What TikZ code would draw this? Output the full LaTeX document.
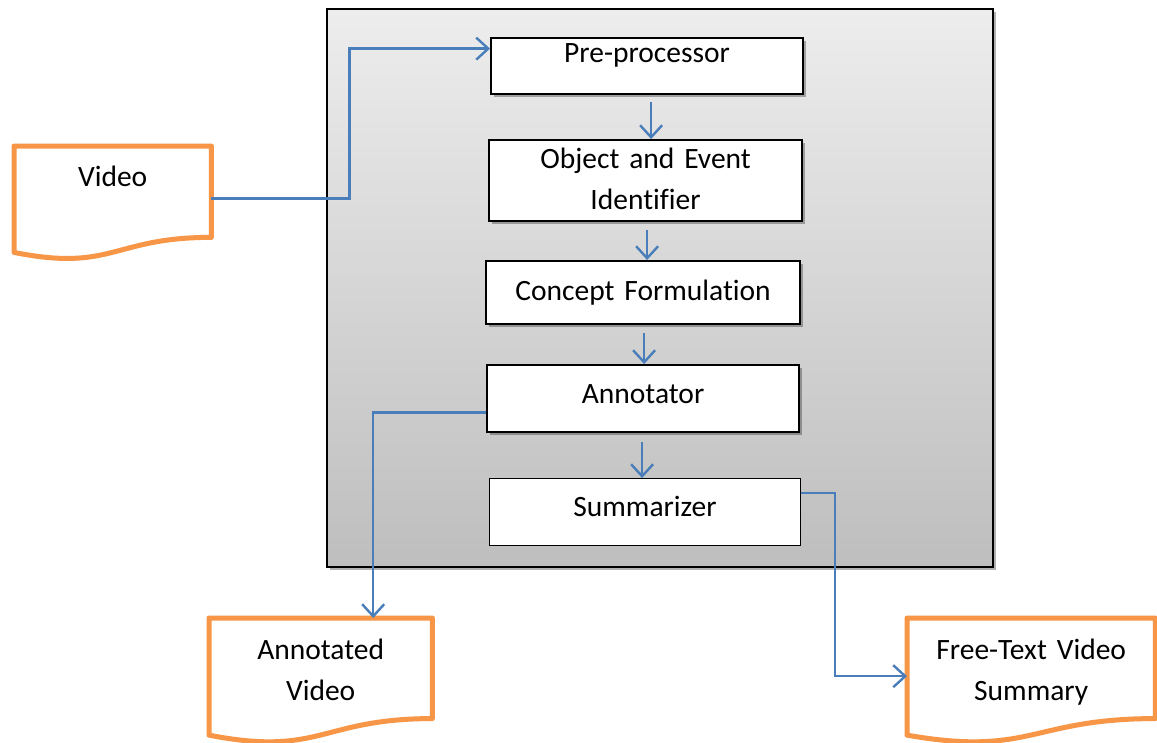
\documentclass[tikz,border=0pt]{standalone}
\usepackage{fontspec}
\setmainfont{Carlito}[Ligatures=NoCommon]
\usetikzlibrary{arrows.meta,calc,shadows}
\definecolor{paneltop}{HTML}{EDEDED}
\definecolor{panelbot}{HTML}{BEBEBE}
\definecolor{flowblue}{HTML}{4A7EBB}
\definecolor{docorange}{HTML}{F79646}
\tikzset{
  lbl/.style={font=\fontsize{29.5}{41}\selectfont, align=center, inner sep=0pt, anchor=north west},
  softshadow/.style={drop shadow={shadow xshift=2.5pt, shadow yshift=-3pt, opacity=0.3, fill=black}},
  stage/.style={lbl, draw=black, line width=2.2pt, fill=white, softshadow},
  laststage/.style={lbl, draw=black, line width=1pt, fill=white},
  docnode/.style={lbl},
  docline/.style={draw=docorange, line width=5pt, line join=round},
  flow/.style={draw=flowblue, line width=2.4pt, -{Straight Barb[length=12pt, width=22pt]}},
  panel/.style={draw=black, line width=2.2pt, anchor=north west, inner sep=0pt,
    top color=paneltop, bottom color=panelbot, softshadow},
}
% document outline: straight top and sides, wavy bottom edge
\newcommand\wavedoc[1]{%
  \draw[docline] (#1.north west) -- (#1.north east)
    -- ($(#1.north east)!0.802!(#1.south east)$)
    .. controls ($(#1.north)!0.802!(#1.south)$) and ($(#1.north)!1.1075!(#1.south)$)
    .. ($(#1.north west)!0.934!(#1.south west)$) -- cycle;}
\begin{document}
\begin{tikzpicture}[x=1pt, y=-1pt]
  \fill[white] (0,0) rectangle (1157,742);
  \useasboundingbox (0,0) rectangle (1157,742);

  % system panel
  \node[panel, minimum width=666pt, minimum height=558pt] (panel) at (326,8) {};

  % processing stages
  \node[stage, text width=312pt, text height=24pt, text depth=32pt] (pre) at (490,37) {Pre-processor};
  \node[stage, text width=313pt, text height=28pt, text depth=53pt] (obj) at (488,139) {Object and Event\\Identifier};
  \node[stage, text width=314pt, text height=39pt, text depth=24pt] (con) at (485,260) {Concept Formulation};
  \node[stage, text width=312pt, text height=38pt, text depth=29pt] (ann) at (486,364) {Annotator};
  \node[laststage, text width=311pt, text height=38pt, text depth=29pt] (sum) at (489,478) {Summarizer};

  % input and output documents
  \node[docnode, text width=197pt, text height=40pt, text depth=73.5pt] (video) at (14,146) {Video};
  \node[docnode, text width=223pt, text height=41pt, text depth=84pt] (annvid) at (209,618) {Annotated\\Video};
  \node[docnode, text width=248pt, text height=41pt, text depth=84pt] (free) at (907,618) {Free-Text Video\\Summary};
  \wavedoc{video}
  \wavedoc{annvid}
  \wavedoc{free}

  % flow between stages
  \draw[flow] ($(pre.south)+(4,7)$) -- ($(pre.south |- obj.north)+(4,0)$);
  \draw[flow] ($(obj.south)+(1.5,8)$) -- ($(obj.south |- con.north)+(1.5,0)$);
  \draw[flow] ($(con.south)+(1,8)$) -- ($(con.south |- ann.north)+(1,0)$);
  \draw[flow] ($(ann.south)+(-1,9)$) -- ($(ann.south |- sum.north)+(-1,0)$);

  % input and outputs
  \coordinate (vout) at ($(video.north east)!0.46!(video.south east)$);
  \coordinate (pin) at ($(pre.north west)!0.2!(pre.south west)$);
  \draw[flow] (vout) -- ++(138,0) |- (pin);

  \coordinate (aout) at ($(ann.north west)!0.70!(ann.south west)$);
  \coordinate (avin) at ($(annvid.north west)!0.735!(annvid.north east)$);
  \draw[flow] (aout) -| (avin);

  \coordinate (sout) at ($(sum.north east)!0.22!(sum.south east)$);
  \coordinate (fin) at ($(free.north west)!0.464!(free.south west)$);
  \draw[flow] (sout) -- ++(34,0) |- (fin);
\end{tikzpicture}
\end{document}
